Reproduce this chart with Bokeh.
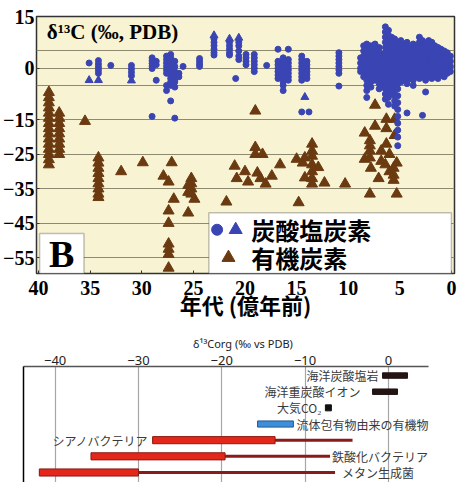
from bokeh.plotting import figure
from bokeh.models import Range1d, FixedTicker, Label, BoxAnnotation, ColumnDataSource
from bokeh.embed import file_html
from bokeh.resources import INLINE
from bokeh.core.properties import value

# ---------------- top panel data (age in 億年前, d13C permil) ----------------
carb_col_age = [35.1, 34.2, 33.0, 31.0, 29.0, 28.6, 27.6, 27.2, 26.8, 26.4, 26.0, 24.4,
                23.0, 21.5, 20.9, 20.6, 19.9, 19.1, 17.9, 16.8, 16.3, 15.8, 14.5, 14.0,
                13.8, 10.9,
                8.8, 8.5, 8.2, 7.8, 7.4, 7.0, 6.7, 6.4, 6.1, 5.8, 5.5, 5.2, 4.9, 4.6,
                4.3, 4.0, 3.7, 3.4, 3.1, 2.8, 2.5, 2.2, 1.9, 1.6, 1.3, 1.0, 0.7, 0.4, 0.1]
carb_col_vals = [
    [1.5], [2.2, 1.2, 0.3, -0.6, -1.5], [0.8], [0.8, -0.2, -1.2, -2.2],
    [3.0, 2.2, 1.4, 0.6, -0.1, -14.0], [2.0, 1.0, -3.5],
    [3.5, 2.5, 1.5, 0.5, -0.5, -1.5, -5.0, -6.5],
    [4.0, 3.0, 2.0, 1.0, 0.0, -1.0, -2.0, -3.0, -4.0, -5.0, -9.5],
    [2.0, 0.5, -1.0, -2.0, -3.0, -4.0, -5.5, -14.5], [-1.5, -2.5], [0.5],
    [2.8, 2.0, 1.2, 0.5],
    [8.5, 7.5, 6.5, 5.5, 4.5, 3.8], [7.5, 6.5, 5.5, 4.5, 3.8], [-3.0],
    [7.5, 6.5, 5.0, 3.5, 2.5], [4.0, 3.0, 2.0, 1.0], [4.0, 3.0, 2.0, 1.0, 0.0, -1.0],
    [0.8], [5.5, 2.0, 1.0, 0.0, -1.0, -2.0, -3.0],
    [3.0, 2.0, 1.0, 0.0, -1.0, -2.0, -3.0, -4.0, -5.0, -6.5],
    [5.5, 2.5, 1.5, 0.5, -0.5, -1.5, -2.5, -3.5],
    [3.5, 2.5, 1.5, 0.5, -0.5, -1.5, -2.5, -3.5, -12.7],
    [2.0, 1.0, 0.0, -1.0, -2.0, -3.0], [-12.7],
    [4.5, 3.5, 2.5, 1.5, 0.5, -0.5, -1.5, -5.2],
    [3.0, 1.5, 0.0, -1.0],
    [6.5, 5.0, 3.5, 2.0, 0.5, -1.0, -2.5],
    [7.0, 5.5, 4.0, 2.5, 1.0, -0.5, -2.0, -3.5, -5.0, -6.5, -8.5],
    [6.5, 5.0, 3.5, 2.0, 0.5, -1.0, -2.5, -4.0, -5.5],
    [7.0, 5.5, 4.0, 2.5, 1.0, -0.5, -2.0, -3.5],
    [6.0, 4.5, 3.0, 1.5, 0.0, -1.5, -3.0, -4.5, -6.0],
    [4.0, 2.5, 1.0, -0.5, -2.0, -3.5, -5.0],
    [12.0, 10.5, 9.0, 7.5, 6.0, 4.5, 3.0, 1.5, 0.0, -1.5, -3.0, -4.5, -6.0, -7.5, -9.0],
    [11.0, 9.5, 8.0, 6.5, 5.0, 3.5, 2.0, 0.5, -1.0, -2.5, -4.0, -5.5, -7.0, -8.5, -10.5],
    [9.0, 7.5, 6.0, 4.5, 3.0, 1.5, 0.0, -1.5, -3.0, -4.5, -6.0, -7.5],
    [8.5, 7.0, 5.5, 4.0, 2.5, 1.0, -0.5, -2.0, -3.5, -5.0, -6.5, -8.0, -9.5, -11.0],
    [7.5, 6.0, 4.5, 3.0, 1.5, 0.0, -1.5, -3.0, -4.5, -6.0, -8.0, -10.0, -12.0, -14.0,
     -16.0, -18.0, -20.0, -22.5],
    [8.0, 6.5, 5.0, 3.5, 2.0, 0.5, -1.0, -2.5, -4.0],
    [7.0, 5.5, 4.0, 2.5, 1.0, -0.5, -2.0, -3.5],
    [7.5, 6.0, 4.5, 3.0, 1.5, 0.0, -1.5, -3.0, -4.5, -13.0],
    [6.0, 4.5, 3.0, 1.5, 0.0, -1.5, -3.0],
    [7.0, 5.5, 4.0, 2.5, 1.0, -0.5, -2.0, -3.5, -5.0],
    [6.5, 5.0, 3.5, 2.0, 0.5, -1.0, -2.5],
    [9.0, 7.5, 6.0, 4.5, 3.0, 1.5, 0.0, -1.5, -3.0],
    [8.0, 6.5, 5.0, 3.5, 2.0, 0.5, -1.0, -2.5, -13.7],
    [7.0, 5.5, 4.0, 2.5, 1.0, -0.5, -2.0, -3.5, -6.9],
    [8.0, 6.5, 5.0, 3.5, 2.0, 0.5, -1.0, -2.5],
    [7.5, 6.0, 4.5, 3.0, 1.5, 0.0, -1.5, -3.0],
    [6.5, 5.0, 3.5, 2.0, 0.5, -1.0, -2.5],
    [6.0, 4.5, 3.0, 1.5, 0.0, -1.5, -3.0],
    [5.5, 4.0, 2.5, 1.0, -0.5, -2.0],
    [5.0, 3.5, 2.0, 0.5, -1.0, -2.5],
    [4.5, 3.0, 1.5, 0.0, -1.5],
    [3.5, 2.0, 0.5, -1.0],
]
carb_tri_age = [35.1, 34.2, 31.0, 23.0, 21.5, 20.6, 14.2]
carb_tri_val = [-3.5, -3.5, -3.6, 9.5, 8.5, 8.8, -8.4]

org_col_age = [39.0, 38.0, 35.5, 34.2, 32.0, 29.9, 27.9, 27.4, 27.1, 26.9, 25.5, 25.2, 24.9,
               21.8, 21.0, 20.8, 20.0, 19.7, 19.0, 18.8, 18.5, 18.3, 18.0, 17.4, 16.6,
               15.0, 14.8, 14.4, 14.2, 13.5, 12.9, 12.3, 10.3, 8.4, 7.9, 7.8, 7.4, 7.05,
               6.8, 6.4, 6.3, 6.0, 5.6, 5.5, 5.3]
org_col_vals = [
    [-7.0, -8.5, -10.0, -11.5, -13.0, -14.5, -16.0, -17.5, -19.0, -20.5, -22.0, -23.5,
     -25.0, -26.5, -28.0],
    [-13.0, -14.5, -16.0, -17.5, -19.0, -20.5, -22.0, -23.5, -25.0],
    [-15.4],
    [-26.0, -27.5, -29.0, -30.5, -32.0, -33.5, -35.0, -36.5, -37.5],
    [-30.0], [-27.4], [-31.3],
    [-33.0, -41.4, -45.0, -51.0, -52.5, -54.0, -58.0],
    [-27.4], [-38.0], [-34.0, -36.0, -42.0], [-32.0, -33.5, -35.0, -36.5], [-38.0],
    [-38.8], [-28.4], [-32.0], [-30.0], [-33.0], [-12.4, -23.0, -25.0], [-30.4], [-32.0],
    [-25.0], [-33.6], [-31.3], [-28.0], [-26.4], [-39.0], [-27.5], [-26.0, -31.8],
    [-22.0, -24.0, -25.5, -28.0, -30.0, -32.0, -33.6], [-28.8], [-33.3], [-33.6],
    [-18.8, -26.4], [-21.0, -22.5, -24.0, -26.0, -36.5], [-29.0], [-10.7, -16.8],
    [-32.0], [-24.0, -27.0], [-28.0], [-14.8, -17.5, -22.0], [-25.0, -30.0],
    [-29.0, -31.0, -32.5], [-14.8, -19.5], [-27.5, -36.5],
]

age_ticks = [40, 35, 30, 25, 20, 15, 10, 5, 0]
d13c_ticks = [15, 0, -15, -25, -35, -45, -55]
d13c_grid = [5, 0, -5, -15, -25, -35, -45, -55]

# ---------------- bottom panel data (d13C org, permil vs PDB) ----------------
org_ticks = [-40, -30, -20, -10, 0]
inorg_names = ["海洋炭酸塩岩", "海洋重炭酸イオン"]
inorg_rows = [0, 1]
inorg_lo = [-0.7, -1.9]
inorg_hi = [2.3, 1.1]
co2_name = ["大気CO₂"]
co2_row = [2]
co2_val = [-7.2]
fluid_name = ["流体包有物由来の有機物"]
fluid_row = [3]
fluid_lo = [-15.7]
fluid_hi = [-11.4]
bio_names = ["シアノバクテリア", "鉄酸化バクテリア", "メタン生成菌"]
bio_rows = [4, 5, 6]
bio_lo = [-28.3, -35.7, -41.9]
bio_mid = [-13.6, -19.6, -30.0]
bio_hi = [-4.3, -7.0, -6.4]

BLUE = "#3a45b3"
BROWN = "#6b3a10"
SERIF = "Liberation Serif"
JP = "Noto Sans CJK JP"

carb_age, carb_val = [], []
for a, vs in zip(carb_col_age, carb_col_vals):
    for v in vs:
        carb_age.append(a)
        carb_val.append(v)
org_age, org_val = [], []
for a, vs in zip(org_col_age, org_col_vals):
    for v in vs:
        org_age.append(a)
        org_val.append(v)

# ---------------- top figure ----------------
p = figure(width=462, height=330, output_backend="svg", toolbar_location=None,
           x_range=Range1d(40.2, -0.3), y_range=Range1d(-59.6, 15.0),
           min_border_left=35, min_border_right=8, min_border_top=16, min_border_bottom=57)
p.background_fill_color = "#f7f3d3"
p.border_fill_color = "white"
p.outline_line_color = "#333333"
p.outline_line_width = 1.5
p.xgrid.visible = False
p.ygrid.ticker = FixedTicker(ticks=d13c_grid)
p.ygrid.grid_line_color = "#8e8a70"
p.ygrid.grid_line_width = 1
p.yaxis.ticker = FixedTicker(ticks=d13c_ticks)
p.xaxis.ticker = FixedTicker(ticks=age_ticks)
for ax in (p.xaxis, p.yaxis):
    ax.axis_line_color = None
    ax.major_tick_line_color = "#333333"
    ax.major_tick_in = 3
    ax.major_tick_out = 0
    ax.minor_tick_line_color = None
    ax.major_label_text_font = SERIF
    ax.major_label_text_font_style = "bold"
    ax.major_label_text_font_size = "20px"
    ax.major_label_text_color = "black"
p.yaxis.major_label_standoff = 2
p.xaxis.major_label_standoff = 7
p.xaxis.axis_label = "年代 (億年前)"
p.xaxis.axis_label_text_font = JP
p.xaxis.axis_label_text_font_style = "bold"
p.xaxis.axis_label_text_font_size = "22px"
p.xaxis.axis_label_text_color = "black"
p.xaxis.axis_label_standoff = -10

p.scatter(org_age, org_val, marker="triangle", size=11, color=BROWN)
p.scatter(carb_age, carb_val, marker="circle", size=6, color=BLUE)
p.scatter(carb_tri_age, carb_tri_val, marker="triangle", size=8, color=BLUE)

p.add_layout(Label(x=39.2, y=14.0, text="δ¹³C (‰, PDB)", text_font=SERIF,
                   text_font_style="bold", text_font_size="21px", text_baseline="top",
                   text_color="black"))
# legend box
p.add_layout(BoxAnnotation(left=23.5, right=0.0, bottom=-59.6, top=-42.0,
                           fill_color="white", fill_alpha=1.0,
                           line_color="#333333", line_width=1.5))
p.scatter([22.7], [-46.9], marker="circle", size=11, color=BLUE, level="overlay")
p.scatter([20.9], [-46.9], marker="triangle", size=13, color=BLUE, level="overlay")
p.scatter([21.6], [-55.0], marker="triangle", size=13, color=BROWN, level="overlay")
p.add_layout(Label(x=19.4, y=-46.9, text="炭酸塩炭素", text_font=JP, text_font_style="bold",
                   text_font_size="24px", text_baseline="middle", text_color="black"))
p.add_layout(Label(x=19.4, y=-55.0, text="有機炭素", text_font=JP, text_font_style="bold",
                   text_font_size="24px", text_baseline="middle", text_color="black"))
# panel letter
p.add_layout(BoxAnnotation(left=39.9, right=35.6, bottom=-59.6, top=-48.0,
                           fill_color="white", fill_alpha=1.0,
                           line_color="#333333", line_width=1.5))
p.add_layout(Label(x=37.75, y=-53.9, text="B", text_font=SERIF, text_font_style="bold",
                   text_font_size="38px", text_align="center", text_baseline="middle",
                   text_color="black"))

# ---------------- bottom figure ----------------
q = figure(width=462, height=152, output_backend="svg", toolbar_location=None,
           x_range=Range1d(-43.8, 8.9), y_range=Range1d(6.62, -0.56),
           x_axis_location="above",
           min_border_left=23, min_border_right=0, min_border_top=36, min_border_bottom=0)
q.outline_line_color = None
q.ygrid.visible = False
q.xgrid.ticker = FixedTicker(ticks=org_ticks)
q.xgrid.grid_line_color = "#a6a6a6"
q.xgrid.grid_line_width = 1.2
q.xaxis.ticker = FixedTicker(ticks=org_ticks)
q.xaxis.bounds = (-43.8, 4.8)
q.xaxis.axis_line_color = "#555555"
q.xaxis.axis_line_width = 1.5
q.xaxis.major_tick_in = 0
q.xaxis.major_tick_out = 0
q.xaxis.minor_tick_line_color = None
q.xaxis.major_label_text_font = "Noto Sans"
q.xaxis.major_label_text_font_size = "13px"
q.xaxis.major_label_text_color = "#222222"
q.xaxis.major_label_standoff = 2
q.xaxis.axis_label = "δ¹³Corg (‰ vs PDB)"
q.xaxis.axis_label_text_font = "Noto Sans"
q.xaxis.axis_label_text_font_style = "normal"
q.xaxis.axis_label_text_font_size = "11px"
q.xaxis.axis_label_text_color = "#222222"
q.xaxis.axis_label_standoff = 2
q.yaxis.axis_line_color = "black"
q.yaxis.axis_line_width = 1.5
q.yaxis.major_tick_line_color = None
q.yaxis.minor_tick_line_color = None
q.yaxis.major_tick_in = 0
q.yaxis.major_tick_out = 0
q.yaxis.major_label_text_font_size = "0px"
q.yaxis.major_label_standoff = 0
q.yaxis.ticker = FixedTicker(ticks=[])

q.hbar(y=inorg_rows, left=inorg_lo, right=inorg_hi, height=0.34,
       fill_color="#241414", line_color="#241414")
q.scatter(co2_val, co2_row, marker="square", size=6, color="#111111")
q.hbar(y=fluid_row, left=fluid_lo, right=fluid_hi, height=0.38,
       fill_color="#3d8fdc", line_color="#24578a", line_width=1)
q.segment(x0=bio_lo, y0=bio_rows, x1=bio_hi, y1=bio_rows, line_color="#8b1a1a", line_width=3)
q.hbar(y=bio_rows, left=bio_lo, right=bio_mid, height=0.44,
       fill_color="#e3281b", line_color="#8a1a12", line_width=1)

lab = ColumnDataSource(dict(
    x=inorg_lo + co2_val + fluid_hi + [bio_lo[0], bio_hi[1], bio_hi[2]],
    y=inorg_rows + co2_row + fluid_row + bio_rows,
    text=inorg_names + co2_name + fluid_name + bio_names,
    align=["right", "right", "right", "left", "right", "left", "left"],
    dx=[-4, -12, -7, 3, -4, 2, 7],
))
q.text(x="x", y="y", text="text", source=lab, text_align="align", x_offset="dx",
       text_baseline="middle", text_font=value(JP), text_font_size="12px",
       text_color="#3a3a3a")

open("out.html", "w").write(file_html([p, q], INLINE))
